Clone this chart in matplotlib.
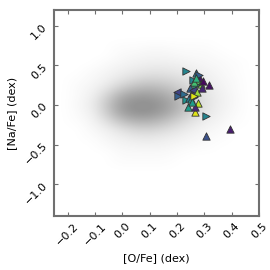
import numpy as np
import matplotlib
matplotlib.use('Agg')
import matplotlib.pyplot as plt
from matplotlib.colors import LinearSegmentedColormap, PowerNorm

# background field stars: density (darkness 0..1)
grid_x = [-0.25, -0.20, -0.15, -0.10, -0.05, 0.00, 0.05, 0.10, 0.15, 0.20, 0.25, 0.30, 0.35, 0.40, 0.45, 0.50]
grid_y = [0.8, 0.7, 0.6, 0.5, 0.4, 0.3, 0.2, 0.1, 0.0, -0.1, -0.2, -0.3, -0.4, -0.5, -0.6, -0.7, -0.8]
density = [
    [0, 0, 0, 0, 0, 0, 0, 0, 0, 0, 0, 0, 0, 0, 0, 0],
    [0, 0, 0, 0, 0, 0.01, 0.01, 0.02, 0.02, 0.01, 0.01, 0.01, 0, 0, 0, 0],
    [0, 0, 0, 0, 0, 0.02, 0.03, 0.04, 0.04, 0.03, 0.02, 0.02, 0.01, 0, 0, 0],
    [0, 0, 0, 0, 0.02, 0.04, 0.06, 0.08, 0.08, 0.07, 0.05, 0.03, 0.02, 0.01, 0, 0],
    [0, 0, 0, 0.02, 0.04, 0.08, 0.12, 0.15, 0.15, 0.12, 0.09, 0.06, 0.03, 0.01, 0, 0],
    [0, 0, 0.01, 0.03, 0.07, 0.15, 0.25, 0.30, 0.28, 0.22, 0.15, 0.09, 0.04, 0.02, 0, 0],
    [0, 0, 0.02, 0.05, 0.15, 0.35, 0.50, 0.55, 0.48, 0.35, 0.22, 0.12, 0.06, 0.02, 0, 0],
    [0, 0, 0.02, 0.08, 0.30, 0.65, 0.80, 0.80, 0.70, 0.50, 0.30, 0.15, 0.07, 0.03, 0, 0],
    [0, 0, 0.03, 0.10, 0.40, 0.80, 0.95, 0.95, 0.82, 0.58, 0.33, 0.16, 0.07, 0.03, 0, 0],
    [0, 0, 0.02, 0.08, 0.35, 0.75, 0.90, 0.90, 0.75, 0.50, 0.28, 0.13, 0.06, 0.02, 0, 0],
    [0, 0, 0.01, 0.05, 0.20, 0.45, 0.60, 0.60, 0.48, 0.30, 0.16, 0.08, 0.04, 0.01, 0, 0],
    [0, 0, 0, 0.03, 0.08, 0.18, 0.28, 0.30, 0.24, 0.15, 0.08, 0.04, 0.02, 0, 0, 0],
    [0, 0, 0, 0.01, 0.04, 0.08, 0.12, 0.13, 0.10, 0.07, 0.04, 0.02, 0.01, 0, 0, 0],
    [0, 0, 0, 0, 0.02, 0.04, 0.05, 0.06, 0.05, 0.03, 0.02, 0.01, 0, 0, 0, 0],
    [0, 0, 0, 0, 0, 0.02, 0.02, 0.02, 0.02, 0.01, 0, 0, 0, 0, 0, 0],
    [0, 0, 0, 0, 0, 0.01, 0.01, 0.01, 0.01, 0, 0, 0, 0, 0, 0, 0],
    [0, 0, 0, 0, 0, 0, 0, 0, 0, 0, 0, 0, 0, 0, 0, 0],
]

# cluster stars
o_fe = [0.233, 0.316, 0.394, 0.307, 0.308, 0.267, 0.276, 0.267, 0.200, 0.205,
        0.227, 0.239, 0.233, 0.245, 0.254, 0.249, 0.257, 0.270, 0.278, 0.285,
        0.276, 0.288, 0.270, 0.263, 0.294, 0.260, 0.273, 0.263, 0.250, 0.256,
        0.282, 0.268, 0.290, 0.262]
na_fe = [0.43, 0.25, -0.30, -0.14, -0.39, -0.09, 0.03, -0.02, 0.17, 0.11,
         0.14, -0.03, 0.06, 0.09, 0.15, 0.22, 0.32, 0.40, 0.36, 0.33,
         0.29, 0.27, 0.25, 0.29, 0.30, 0.19, 0.17, 0.10, 0.08, 0.04,
         0.38, 0.34, 0.22, 0.12]
cval = [0.45, 0.05, 0.08, 0.45, 0.25, 0.95, 0.9, 0.1, 0.2, 0.3,
        0.35, 0.55, 0.5, 0.4, 0.15, 0.3, 0.45, 0.4, 0.1, 0.05,
        0.75, 0.8, 0.6, 0.7, 0.02, 0.2, 0.85, 0.15, 0.5, 0.55,
        0.3, 0.65, 0.1, 0.95]
shape = ['>', '^', '^', '>', '^', '^', '^', '^', '<', '>',
         '>', '^', '>', '^', '^', '^', '>', '^', '^', '^',
         '>', '^', '>', '^', '^', '<', '^', '>', '^', '^',
         '>', '^', '^', '>']

plt.rcParams['font.family'] = 'DejaVu Sans'
plt.rcParams['font.size'] = 8

fig = plt.figure(figsize=(2.7, 2.7), dpi=100)
ax = fig.add_axes([0.2, 0.2, 0.759, 0.763])

greys = LinearSegmentedColormap.from_list('gr', ['white', '#939393'])
dx = 0.025
dy = 0.05
ax.imshow(np.array(density), cmap=greys, norm=PowerNorm(0.75, vmin=0, vmax=0.9),
          aspect='auto', interpolation='bicubic', zorder=0,
          extent=[grid_x[0] - dx, grid_x[-1] + dx, grid_y[-1] - dy, grid_y[0] + dy])

cmap = plt.get_cmap('viridis')
for x, y, c, m in zip(o_fe, na_fe, cval, shape):
    ax.scatter(x, y, s=28, marker=m, color=cmap(c), edgecolor='#333333',
               linewidth=0.6, zorder=3)

ax.set_xlim(-0.25, 0.5)
ax.set_ylim(-1.4, 1.2)
ax.set_xticks([-0.2, -0.1, 0.0, 0.1, 0.2, 0.3, 0.4, 0.5])
ax.set_yticks([-1.0, -0.5, 0.0, 0.5, 1.0])
ax.set_xlabel('[O/Fe] (dex)')
ax.set_ylabel('[Na/Fe] (dex)')
ax.tick_params(direction='in', top=True, right=True, length=3, color='#707070')
for lab in ax.get_xticklabels() + ax.get_yticklabels():
    lab.set_rotation(45)
for sp in ax.spines.values():
    sp.set_color('#707070')
    sp.set_linewidth(1.5)

fig.savefig('out.png', dpi=100)
